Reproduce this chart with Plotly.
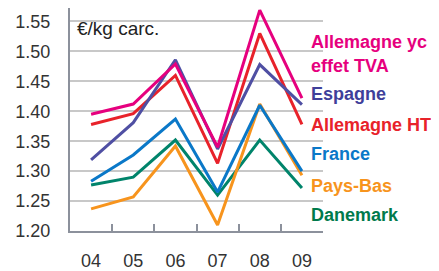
import plotly.graph_objects as go

years = ["04", "05", "06", "07", "08", "09"]
series_names = ["Allemagne yc effet TVA", "Espagne", "Allemagne HT", "France", "Pays-Bas", "Danemark"]
allemagne_tva = [1.395, 1.412, 1.479, 1.340, 1.569, 1.422]
espagne = [1.319, 1.381, 1.486, 1.337, 1.478, 1.411]
allemagne_ht = [1.378, 1.396, 1.460, 1.313, 1.530, 1.378]
france = [1.283, 1.327, 1.387, 1.265, 1.410, 1.300]
pays_bas = [1.237, 1.257, 1.342, 1.210, 1.412, 1.293]
danemark = [1.277, 1.290, 1.352, 1.260, 1.352, 1.272]
y_ticks = [1.20, 1.25, 1.30, 1.35, 1.40, 1.45, 1.50, 1.55]

values = [allemagne_tva, espagne, allemagne_ht, france, pays_bas, danemark]
line_colors = ["#E6007E", "#4F4FA3", "#E8222A", "#0A78C8", "#F7941D", "#00846B"]
label_colors = ["#E6007E", "#3F3F9A", "#E8222A", "#0A78C8", "#F7941D", "#007A4C"]
label_texts = ["Allemagne yc", "effet TVA", "Espagne", "Allemagne HT", "France", "Pays-Bas", "Danemark"]
label_color_idx = [0, 0, 1, 2, 3, 4, 5]
label_y = [1.516, 1.475, 1.429, 1.377, 1.329, 1.275, 1.226]

fig = go.Figure()
# draw order: bottom to top
for i in [5, 4, 3, 2, 1, 0]:
    fig.add_trace(go.Scatter(x=years, y=values[i], mode="lines", name=series_names[i],
                             line=dict(color=line_colors[i], width=3), cliponaxis=False))

for t, ci, yv in zip(label_texts, label_color_idx, label_y):
    fig.add_annotation(text="<b>" + t + "</b>", x=0.945, xref="paper", y=yv, yref="y",
                       xanchor="left", yanchor="middle", showarrow=False,
                       font=dict(size=18, color=label_colors[ci], family="Liberation Sans"))

fig.add_annotation(text="€/kg carc.", x=0.02, xref="paper", y=1.538, yref="y",
                   xanchor="left", yanchor="middle", showarrow=False,
                   font=dict(size=19, color="#222222", family="Liberation Sans"))

# the page body adds an 8px offset at left/top, so the figure is 8px smaller than the window
fig.update_layout(
    width=431, height=263,
    margin=dict(l=62, r=116, t=0, b=35),
    plot_bgcolor="white", paper_bgcolor="white",
    showlegend=False,
    font=dict(family="Liberation Sans", size=18, color="#333333"),
)
fig.update_xaxes(type="category", range=[-0.5, 5.5], showgrid=False,
                 showline=True, linecolor="#8C919C", linewidth=2,
                 ticks="inside", tickson="boundaries", ticklen=7, tickcolor="#8C919C", tickwidth=2,
                 tickfont=dict(size=18, color="#333333"), ticklabelstandoff=12)
fig.update_yaxes(range=[1.2, 1.5725], tickvals=y_ticks, ticktext=[f"{v:.2f}" for v in y_ticks],
                 showgrid=True, gridcolor="#C8C8C8", gridwidth=2,
                 showline=True, linecolor="#8C919C", linewidth=2, zeroline=False,
                 ticks="", tickfont=dict(size=18, color="#333333"), ticklabelstandoff=14)

fig.write_html("out.html")
